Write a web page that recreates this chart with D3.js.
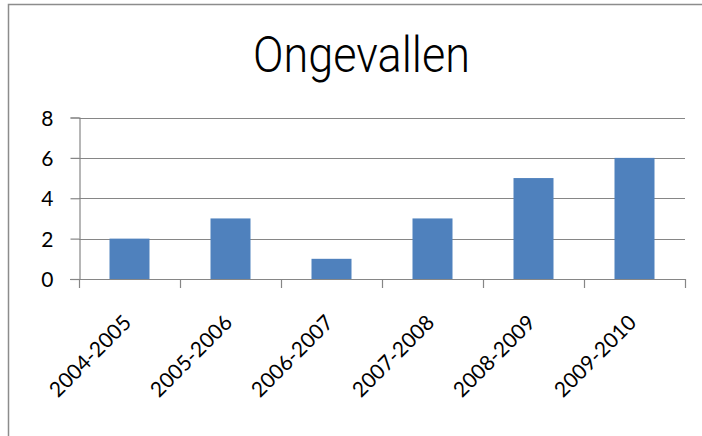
<!DOCTYPE html>
<html>
<head>
<meta charset="utf-8">
<script src="https://cdn.jsdelivr.net/npm/d3@7"></script>
<style>
  html, body { margin: 0; padding: 0; background: #fff; }
  svg { display: block; }
  .tick-label { font-family: Lato, "Open Sans", sans-serif; fill: #000; }
</style>
</head>
<body>
<div id="chart"></div>
<script>
const seasons = ['2004-2005', '2005-2006', '2006-2007', '2007-2008', '2008-2009', '2009-2010'];
const accidents = [2, 3, 1, 3, 5, 6];
const yTicks = [0, 2, 4, 6, 8];
const chartTitle = 'Ongevallen';

const width = 702, height = 436;
const plot = { left: 79, right: 685, top: 117.5, bottom: 279 };
const gridColor = '#868686';

const svg = d3.select('#chart').append('svg')
  .attr('width', width)
  .attr('height', height);

// chart frame (only top and left edges fall inside the picture)
svg.append('rect')
  .attr('x', 8.5).attr('y', 4.5)
  .attr('width', width + 20).attr('height', height + 20)
  .attr('fill', 'none')
  .attr('stroke', '#8c8c8c')
  .attr('stroke-width', 1.5);

// title is a thin condensed face in the original; squeeze it to the same width
svg.append('text')
  .attr('x', 253).attr('y', 71.5)
  .attr('font-family', 'Roboto, "Liberation Sans", sans-serif')
  .attr('font-weight', 300)
  .attr('font-size', 50)
  .attr('textLength', 217)
  .attr('lengthAdjust', 'spacingAndGlyphs')
  .text(chartTitle);

const x = d3.scaleBand().domain(seasons).range([plot.left, plot.right]).paddingInner(0).paddingOuter(0);
const y = d3.scaleLinear().domain([0, 8]).range([plot.bottom, plot.top]);
const barWidth = 40;

// gridlines
svg.append('g')
  .selectAll('line').data(yTicks.filter(d => d > 0))
  .enter().append('line')
  .attr('x1', plot.left).attr('x2', plot.right)
  .attr('y1', d => Math.round(y(d)) + 0.5).attr('y2', d => Math.round(y(d)) + 0.5)
  .attr('stroke', gridColor).attr('stroke-width', 1.2);

// bars
svg.append('g')
  .selectAll('rect').data(accidents)
  .enter().append('rect')
  .attr('x', (_, i) => x(seasons[i]) + (x.bandwidth() - barWidth) / 2)
  .attr('y', d => y(d))
  .attr('width', barWidth)
  .attr('height', d => y(0) - y(d))
  .attr('fill', '#4f81bd');

// y axis
const yAxis = svg.append('g')
  .attr('transform', `translate(${plot.left + 0.5},0)`)
  .call(d3.axisLeft(y).tickValues(yTicks).tickSize(9).tickPadding(17).tickFormat(d3.format('d')));
yAxis.select('.domain').attr('stroke', gridColor).attr('stroke-width', 1.2);
yAxis.selectAll('.tick line').attr('stroke', gridColor).attr('stroke-width', 1.2);
yAxis.selectAll('.tick text')
  .attr('class', 'tick-label')
  .attr('font-size', 21)
  .attr('dy', '0.36em');

// x axis
const xTickPos = seasons.map(s => x(s)).concat([plot.right]);
const xAxisG = svg.append('g');
xAxisG.append('line')
  .attr('x1', plot.left - 9).attr('x2', plot.right)
  .attr('y1', Math.round(y(0)) + 0.5).attr('y2', Math.round(y(0)) + 0.5)
  .attr('stroke', gridColor).attr('stroke-width', 1.2);
xAxisG.selectAll('line.tk').data(xTickPos)
  .enter().append('line')
  .attr('class', 'tk')
  .attr('x1', d => Math.round(d) + 0.5).attr('x2', d => Math.round(d) + 0.5)
  .attr('y1', Math.round(y(0))).attr('y2', Math.round(y(0)) + 9)
  .attr('stroke', gridColor).attr('stroke-width', 1.2);

xAxisG.selectAll('text').data(seasons)
  .enter().append('text')
  .attr('class', 'tick-label')
  .attr('font-size', 21)
  .attr('text-anchor', 'end')
  .attr('transform', d => `translate(${x(d) + x.bandwidth() / 2 + 3},${y(0) + 45}) rotate(-45)`)
  .text(d => d);
</script>
</body>
</html>
